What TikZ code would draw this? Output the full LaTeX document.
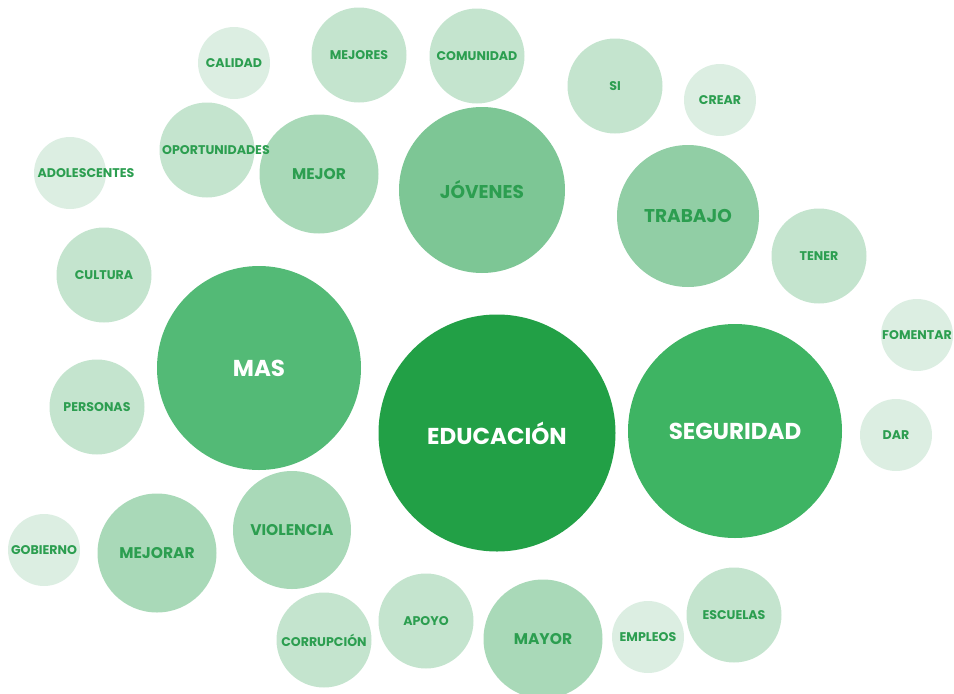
\documentclass[tikz,border=0pt]{standalone}
\usepackage{fontspec}
\setmainfont{Poppins}
\definecolor{verde1}{HTML}{22A046}
\definecolor{verde2}{HTML}{3EB463}
\definecolor{verde3}{HTML}{53BA76}
\definecolor{verde4}{HTML}{7DC695}
\definecolor{verde5}{HTML}{91CEA5}
\definecolor{verde6}{HTML}{A9D9B8}
\definecolor{verde7}{HTML}{C4E4CE}
\definecolor{verde8}{HTML}{DCEEE2}
\definecolor{texto}{HTML}{2C9E50}

\begin{document}
\begin{tikzpicture}[x=1pt,y=-1pt,
    bub/.style = {circle, inner sep=0pt, minimum size=#1pt, text=texto},
    big/.style = {text=white, font=\bfseries\fontsize{23}{26}\selectfont},
    large/.style = {font=\bfseries\fontsize{18.5}{21}\selectfont},
    mid/.style = {font=\bfseries\fontsize{15.5}{18}\selectfont},
    small/.style = {font=\bfseries\fontsize{12.6}{15}\selectfont},
    word/.style = {text=texto, font=\bfseries\fontsize{12.6}{15}\selectfont}]
        \useasboundingbox (0,0) rectangle (954,694);
        % main words
        \node[bub=237, fill=verde1, big] (educacion) at (497,433) {EDUCACIÓN};
        \node[bub=214, fill=verde2, big] (seguridad) at (735,431) {SEGURIDAD};
        \node[bub=204, fill=verde3, big] (mas) at (259,368) {MAS};
        \node[bub=166, fill=verde4, large] (jovenes) at (482,190) {JÓVENES};
        \node[bub=142, fill=verde5, large] (trabajo) at (688,216) {TRABAJO};
        \node[bub=119, fill=verde6, mid] (mejor) at (319,174) {MEJOR};
        \node[bub=118, fill=verde6, mid] (violencia) at (292,530) {VIOLENCIA};
        \node[bub=119, fill=verde6, mid] (mejorar) at (157,553) {MEJORAR};
        \node[bub=119, fill=verde6, mid] (mayor) at (543,639) {MAYOR};
        % medium words
        \node[bub=95, fill=verde7, small] (mejores) at (359,55) {MEJORES};
        \node[bub=95, fill=verde7, small] (comunidad) at (477,56) {COMUNIDAD};
        \node[bub=95, fill=verde7, small] (si) at (615,86) {SI};
        \node[bub=95, fill=verde7, small] (tener) at (819,256) {TENER};
        \node[bub=95, fill=verde7, small] (cultura) at (104,275) {CULTURA};
        \node[bub=95, fill=verde7, small] (personas) at (97,407) {PERSONAS};
        \node[bub=95, fill=verde7, label={[word, xshift=9pt]center:OPORTUNIDADES}] (oportunidades) at (207,150) {};
        \node[bub=95, fill=verde7, small] (corrupcion) at (324,640) {CORRUPCIÓN};
        \node[bub=95, fill=verde7, small] (apoyo) at (426,621) {APOYO};
        \node[bub=95, fill=verde7, small] (escuelas) at (734,615) {ESCUELAS};
        % small words
        \node[bub=72, fill=verde8, small] (calidad) at (234,63) {CALIDAD};
        \node[bub=72, fill=verde8, small] (crear) at (720,100) {CREAR};
        \node[bub=72, fill=verde8, label={[word, xshift=16pt]center:ADOLESCENTES}] (adolescentes) at (70,173) {};
        \node[bub=72, fill=verde8, label={[word]center:FOMENTAR}] (fomentar) at (917,335) {};
        \node[bub=72, fill=verde8, small] (dar) at (896,435) {DAR};
        \node[bub=72, fill=verde8, label={[word]center:GOBIERNO}] (gobierno) at (44,550) {};
        \node[bub=72, fill=verde8, small] (empleos) at (648,637) {EMPLEOS};
\end{tikzpicture}
\end{document}
